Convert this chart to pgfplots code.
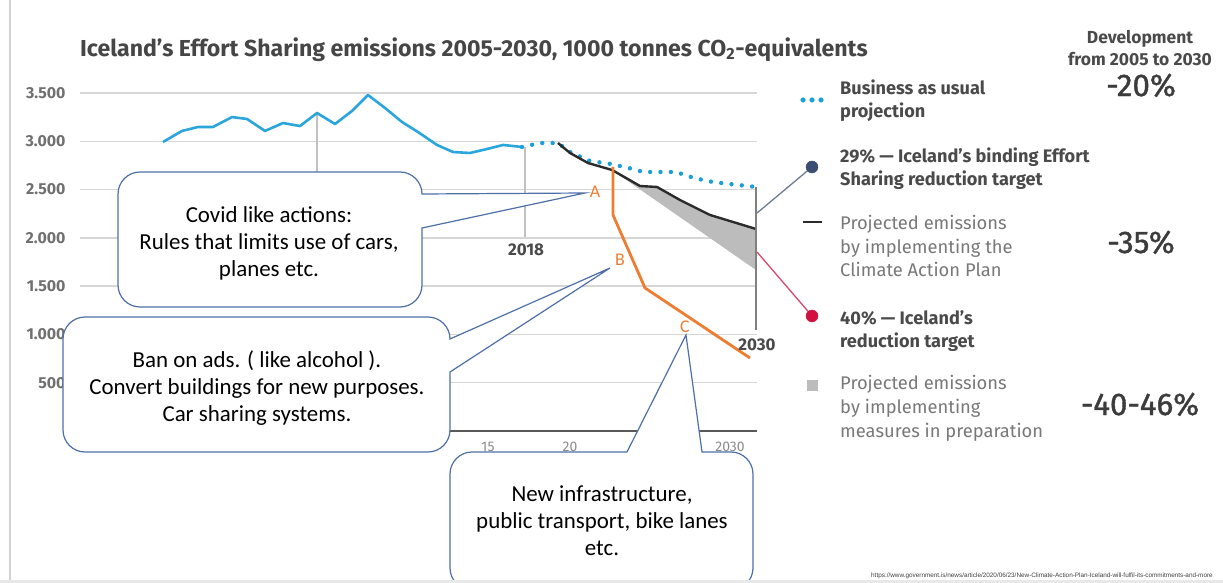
\documentclass[border=0pt]{standalone}
\usepackage{fontspec}
\usepackage{pgfplots}
\pgfplotsset{compat=1.18}
\setmainfont{Fira Sans}
\newfontfamily\calib{Carlito}
\newfontfamily\arialf{Liberation Sans}
\newcommand\fs[2]{\fontsize{#1}{#2}\selectfont}
\definecolor{gridgray}{HTML}{D6D6D6}
\definecolor{tickgray}{HTML}{707070}
\definecolor{titlegray}{HTML}{464646}
\definecolor{histblue}{HTML}{2AA6DC}
\definecolor{bau}{HTML}{1A9FDB}
\definecolor{projblack}{HTML}{2B2B2B}
\definecolor{areagray}{HTML}{BCBCBC}
\definecolor{orangeline}{HTML}{ED7D31}
\definecolor{callout}{HTML}{4E70A6}
\definecolor{dotblue}{HTML}{3B4D72}
\definecolor{dotred}{HTML}{D20F3F}
\definecolor{linkblue}{HTML}{6F7B95}
\definecolor{linkred}{HTML}{D4496E}
\definecolor{legbold}{HTML}{4A4A4A}
\definecolor{legreg}{HTML}{787878}
\definecolor{pctgray}{HTML}{3C3C3C}
\definecolor{lowtick}{HTML}{8C8C8C}
\begin{document}
\begin{tikzpicture}
\useasboundingbox (0,0) rectangle (1223bp,-583bp);
\fill[white] (0,0) rectangle (1223bp,-583bp);
\begin{axis}[
  at={(80bp,-431bp)}, anchor=south west,
  scale only axis, width=677bp, height=338bp,
  xmin=80, xmax=757, ymin=0, ymax=3500,
  clip=false,
  axis line style={draw=none},
  xtick=\empty,
  ytick={500,1000,1500,2000,2500,3000,3500},
  ymajorgrids, grid style={draw=gridgray, line width=1.4bp},
  major tick length=0pt,
  scaled y ticks=false,
  /pgf/number format/1000 sep={.},
  /pgf/number format/assume math mode=true,
  yticklabel style={font=\bfseries\fs{16}{18}, text=tickgray, anchor=east, xshift=-11bp},
]
% baseline and vertical guides
\addplot[draw=black!65, line width=2.6bp] coordinates {(80,0) (757,0)};
\addplot[draw=gridgray!90!black, line width=1.2bp] coordinates {(317,3293) (317,2500)};
\addplot[draw=gridgray!90!black, line width=1.2bp] coordinates {(525,2941) (525,2009)};
% historical emissions
\addplot[histblue, line width=2.6bp, line join=round] coordinates {
 (163,2993) (182,3107) (198,3148) (213,3148) (232,3251) (247,3231) (265,3107)
 (283,3189) (300,3158) (317,3293) (335,3179) (352,3314) (368,3479) (385,3345)
 (402,3200) (418,3096) (437,2962) (453,2889) (470,2879) (487,2920) (503,2962) (522,2941)};
% measures in preparation (area)
\addplot[fill=areagray, draw=none] coordinates {
 (612,2703) (640,2537) (657,2527) (680,2392) (710,2237) (756,2092) (756,1667) (612,2703)};
% business as usual projection
\addplot[bau, line width=4.4bp, line cap=round, dash pattern=on 0pt off 10.4pt] coordinates {
 (522,2941) (540,2982) (558,2982) (570,2889) (590,2796) (611,2765) (633,2713)
 (643,2682) (676,2682) (694,2620) (713,2578) (756,2527)};
% climate action plan projection
\addplot[projblack, line width=2.4bp, line join=round] coordinates {
 (558,2982) (570,2879) (588,2775) (612,2703) (640,2537) (657,2527) (680,2392) (710,2237) (756,2092)};
% 2030 marker line
\addplot[draw=black!50, line width=2bp] coordinates {(756,2527) (756,1046)};
% orange scenario
\addplot[orangeline, line width=2.8bp, line join=round] coordinates {
 (613,2734) (613,2237) (645,1481) (750,756)};
% links to legend targets
\addplot[linkblue, line width=1.3bp] coordinates {(757,2257) (812,2734)};
\addplot[linkred, line width=1.3bp] coordinates {(757,1854) (812,1191)};
\addplot[only marks, mark=*, mark size=6bp, color=dotblue] coordinates {(812,2734)};
\addplot[only marks, mark=*, mark size=6bp, color=dotred] coordinates {(812,1191)};
% legend markers
\addplot[only marks, mark=*, mark size=2.3bp, color=bau] coordinates {(803,3428) (812,3428) (821,3428)};
\addplot[projblack, line width=2.6bp] coordinates {(803,2164) (822,2164)};
\addplot[only marks, mark=square*, mark size=5bp, color=areagray] coordinates {(812,476)};
\end{axis}
\begin{scope}[x=1bp,y=-1bp]
% slide border
\draw[gray!35, line width=1.5bp] (10,0) -- (10,583);
% title
\node[anchor=base west, inner sep=0, text=titlegray, font=\bfseries\fs{23.2}{27}] at (80,56)
  {Iceland’s Effort Sharing emissions 2005-2030, 1000 tonnes CO\textsubscript{2}-equivalents};
% year labels
\node[anchor=center, inner sep=0, text=legbold, font=\bfseries\fs{17}{20}] at (526,250) {2018};
\node[anchor=center, inner sep=0, text=legbold, font=\bfseries\fs{17}{20}] at (757,345) {2030};
\node[anchor=center, inner sep=0, text=lowtick, font=\fs{14}{16}] at (488,447) {15};
\node[anchor=center, inner sep=0, text=lowtick, font=\fs{14}{16}] at (570,447) {20};
\node[anchor=center, inner sep=0, text=lowtick, font=\fs{14}{16}] at (730,447) {2030};
% scenario letters
\node[anchor=center, inner sep=0, text=orangeline, font=\calib\fs{18}{20}] at (595,192) {A};
\node[anchor=center, inner sep=0, text=orangeline, font=\calib\fs{18}{20}] at (620,260) {B};
\node[anchor=center, inner sep=0, text=orangeline, font=\calib\fs{18}{20}] at (685,327) {C};
% legend
\node[anchor=base, inner sep=0, text=legbold, font=\bfseries\fs{17.5}{20}] at (1140,43) {Development};
\node[anchor=base, inner sep=0, text=legbold, font=\bfseries\fs{17.5}{20}] at (1140,65) {from 2005 to 2030};
\begin{scope}[every node/.style={anchor=base west, inner sep=0}]
\node[text=legbold, font=\bfseries\fs{18.2}{20}] at (840,94) {Business as usual};
\node[text=legbold, font=\bfseries\fs{18.2}{20}] at (840,117) {projection};
\node[text=legbold, font=\bfseries\fs{18.2}{20}] at (840,162) {29\% — Iceland’s binding Effort};
\node[text=legbold, font=\bfseries\fs{18.2}{20}] at (840,185) {Sharing reduction target};
\node[text=legreg, font=\fs{18.4}{20}] at (840,229) {Projected emissions};
\node[text=legreg, font=\fs{18.4}{20}] at (840,253) {by implementing the};
\node[text=legreg, font=\fs{18.4}{20}] at (840,276) {Climate Action Plan};
\node[text=legbold, font=\bfseries\fs{18.2}{20}] at (840,324) {40\% — Iceland’s};
\node[text=legbold, font=\bfseries\fs{18.2}{20}] at (840,347) {reduction target};
\node[text=legreg, font=\fs{18.4}{20}] at (840,389) {Projected emissions};
\node[text=legreg, font=\fs{18.4}{20}] at (840,413) {by implementing};
\node[text=legreg, font=\fs{18.4}{20}] at (840,437) {measures in preparation};
\end{scope}
\begin{scope}[every node/.style={anchor=base, inner sep=0, text=pctgray, font=\fs{31.5}{34}\addfontfeatures{FakeBold=1.2}}]
\node at (1141,96) {-20\%};
\node at (1141,253) {-35\%};
\node at (1140,415) {-40-46\%};
\end{scope}
% callout 1
\draw[callout, line width=1.2bp, fill=white]
 (140,172) -- (400,172) .. controls (412.1,172) and (422,181.9) .. (422,194)
 -- (585,193) -- (422,228) -- (422,285) .. controls (422,297.1) and (412.1,307) .. (400,307)
 -- (140,307) .. controls (127.9,307) and (118,297.1) .. (118,285)
 -- (118,194) .. controls (118,181.9) and (127.9,172) .. (140,172) -- cycle;
% callout 2
\draw[callout, line width=1.2bp, fill=white]
 (85,317) -- (428,317) .. controls (440.1,317) and (450,326.9) .. (450,339)
 -- (610,268) -- (450,372) -- (450,430) .. controls (450,442.1) and (440.1,452) .. (428,452)
 -- (85,452) .. controls (72.9,452) and (63,442.1) .. (63,430)
 -- (63,339) .. controls (63,326.9) and (72.9,317) .. (85,317) -- cycle;
% callout 3
\draw[callout, line width=1.2bp, fill=white]
 (472,452) -- (627,452) -- (686,335) -- (702,452) -- (731,452)
 .. controls (743.1,452) and (753,461.9) .. (753,474)
 -- (753,568) .. controls (753,580.1) and (743.1,590) .. (731,590)
 -- (472,590) .. controls (459.9,590) and (450,580.1) .. (450,568)
 -- (450,474) .. controls (450,461.9) and (459.9,452) .. (472,452) -- cycle;
% callout texts
\begin{scope}[every node/.style={anchor=base, inner sep=0, text=black, font=\calib\fs{23}{26}}]
\node at (269,222) {Covid like actions:};
\node at (269,249) {Rules that limits use of cars,};
\node at (269,276) {planes etc.};
\node at (257,367) {Ban on ads. ( like alcohol ).};
\node at (257,394) {Convert buildings for new purposes.};
\node at (257,421) {Car sharing systems.};
\node at (602,501) {New infrastructure,};
\node at (602,528) {public transport, bike lanes};
\node at (602,555) {etc.};
\end{scope}
% bottom band and source
\fill[gray!18] (0,580) rectangle (1223,583);
\node[anchor=base east, inner sep=0, text=black!75, font=\arialf\fs{6.4}{7}] at (1213,577)
 {https://www.government.is/news/article/2020/06/23/New-Climate-Action-Plan-Iceland-will-fulfil-its-commitments-and-more};
\end{scope}
\end{tikzpicture}
\end{document}
